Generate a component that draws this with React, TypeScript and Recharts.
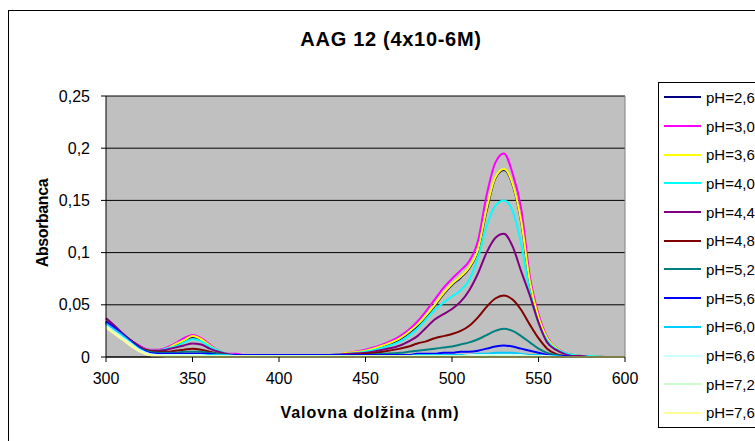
import React from 'react';
import { LineChart, Line, XAxis, YAxis, CartesianGrid, ReferenceLine } from 'recharts';

// wavelength grid (nm)
const wavelengths = [
  300, 305, 310, 315, 320, 325, 330, 335, 340, 345,
  350, 355, 360, 365, 370, 375, 380, 390, 400, 410,
  420, 430, 440, 450, 460, 470, 475, 480, 485, 490,
  495, 500, 505, 510, 515, 520, 525, 530, 535, 540,
  545, 550, 555, 560, 565, 570, 575, 580, 590, 600,
];

const ph26 = [
  0.033, 0.027, 0.021, 0.015, 0.010, 0.006, 0.006, 0.008, 0.011, 0.015,
  0.019, 0.017, 0.011, 0.006, 0.003, 0.002, 0.002, 0.002, 0.002, 0.002,
  0.002, 0.002, 0.003, 0.006, 0.010, 0.017, 0.023, 0.030, 0.039, 0.049,
  0.060, 0.069, 0.076, 0.085, 0.102, 0.140, 0.171, 0.179, 0.165, 0.129,
  0.071, 0.037, 0.018, 0.009, 0.004, 0.002, 0.001, 0.001, 0.000, 0.000,
];
const ph30 = [
  0.032, 0.026, 0.020, 0.015, 0.010, 0.007, 0.007, 0.009, 0.013, 0.018,
  0.021, 0.018, 0.012, 0.006, 0.003, 0.003, 0.002, 0.002, 0.002, 0.002,
  0.002, 0.002, 0.004, 0.007, 0.012, 0.020, 0.026, 0.034, 0.044, 0.055,
  0.066, 0.075, 0.083, 0.092, 0.111, 0.155, 0.186, 0.195, 0.176, 0.142,
  0.077, 0.041, 0.019, 0.009, 0.004, 0.002, 0.001, 0.001, 0.000, 0.000,
];
const ph36 = [
  0.030, 0.025, 0.019, 0.014, 0.009, 0.006, 0.006, 0.008, 0.012, 0.016,
  0.020, 0.017, 0.011, 0.006, 0.003, 0.002, 0.002, 0.002, 0.002, 0.002,
  0.002, 0.002, 0.004, 0.006, 0.011, 0.018, 0.024, 0.031, 0.040, 0.050,
  0.061, 0.070, 0.077, 0.086, 0.103, 0.142, 0.172, 0.180, 0.166, 0.130,
  0.072, 0.038, 0.018, 0.009, 0.004, 0.002, 0.001, 0.001, 0.000, 0.000,
];
const ph40 = [
  0.031, 0.026, 0.020, 0.014, 0.009, 0.006, 0.006, 0.008, 0.010, 0.014,
  0.017, 0.015, 0.010, 0.006, 0.003, 0.002, 0.002, 0.002, 0.002, 0.002,
  0.002, 0.002, 0.003, 0.005, 0.009, 0.015, 0.020, 0.027, 0.036, 0.045,
  0.052, 0.058, 0.064, 0.074, 0.095, 0.125, 0.145, 0.150, 0.140, 0.108,
  0.062, 0.033, 0.016, 0.008, 0.004, 0.002, 0.001, 0.001, 0.000, 0.000,
];
const ph44 = [
  0.037, 0.030, 0.022, 0.015, 0.009, 0.006, 0.006, 0.007, 0.009, 0.011,
  0.013, 0.012, 0.008, 0.005, 0.003, 0.002, 0.002, 0.002, 0.002, 0.002,
  0.002, 0.002, 0.003, 0.004, 0.007, 0.011, 0.015, 0.020, 0.028, 0.036,
  0.041, 0.046, 0.053, 0.064, 0.080, 0.100, 0.114, 0.118, 0.106, 0.082,
  0.059, 0.033, 0.014, 0.007, 0.003, 0.001, 0.001, 0.000, 0.000, 0.000,
];
const ph48 = [
  0.034, 0.028, 0.021, 0.015, 0.009, 0.006, 0.005, 0.005, 0.006, 0.007,
  0.008, 0.007, 0.005, 0.003, 0.002, 0.002, 0.002, 0.002, 0.002, 0.002,
  0.002, 0.002, 0.002, 0.003, 0.005, 0.008, 0.010, 0.013, 0.015, 0.018,
  0.020, 0.022, 0.025, 0.030, 0.038, 0.048, 0.056, 0.059, 0.055, 0.045,
  0.031, 0.018, 0.008, 0.003, 0.001, 0.000, 0.000, 0.000, 0.000, 0.000,
];
const ph52 = [
  0.033, 0.027, 0.020, 0.014, 0.008, 0.005, 0.004, 0.004, 0.004, 0.005,
  0.005, 0.005, 0.004, 0.003, 0.002, 0.002, 0.002, 0.002, 0.002, 0.002,
  0.002, 0.002, 0.002, 0.002, 0.003, 0.004, 0.005, 0.006, 0.007, 0.008,
  0.009, 0.010, 0.012, 0.014, 0.017, 0.021, 0.025, 0.027, 0.025, 0.020,
  0.014, 0.008, 0.004, 0.002, 0.001, 0.000, 0.000, 0.000, 0.000, 0.000,
];
const ph56 = [
  0.034, 0.028, 0.021, 0.014, 0.008, 0.004, 0.003, 0.003, 0.003, 0.003,
  0.003, 0.003, 0.003, 0.002, 0.002, 0.002, 0.002, 0.002, 0.002, 0.002,
  0.002, 0.002, 0.002, 0.002, 0.002, 0.002, 0.002, 0.003, 0.003, 0.003,
  0.004, 0.004, 0.005, 0.005, 0.006, 0.008, 0.010, 0.011, 0.010, 0.008,
  0.006, 0.004, 0.002, 0.001, 0.001, 0.000, 0.000, 0.000, 0.000, 0.000,
];
const ph60 = [
  0.032, 0.026, 0.020, 0.013, 0.007, 0.003, 0.002, 0.002, 0.002, 0.002,
  0.002, 0.002, 0.002, 0.002, 0.002, 0.001, 0.001, 0.001, 0.001, 0.001,
  0.001, 0.001, 0.001, 0.001, 0.001, 0.001, 0.001, 0.002, 0.002, 0.002,
  0.002, 0.002, 0.002, 0.002, 0.003, 0.003, 0.004, 0.004, 0.004, 0.003,
  0.002, 0.002, 0.001, 0.001, 0.000, 0.000, 0.000, 0.000, 0.000, 0.000,
];
const ph66 = [
  0.030, 0.024, 0.018, 0.012, 0.006, 0.003, 0.002, 0.002, 0.002, 0.002,
  0.002, 0.002, 0.001, 0.001, 0.001, 0.001, 0.001, 0.001, 0.001, 0.001,
  0.001, 0.001, 0.001, 0.001, 0.001, 0.001, 0.001, 0.001, 0.001, 0.001,
  0.001, 0.001, 0.001, 0.002, 0.002, 0.002, 0.002, 0.002, 0.002, 0.002,
  0.001, 0.001, 0.001, 0.000, 0.000, 0.000, 0.000, 0.000, 0.000, 0.000,
];
const ph72 = [
  0.029, 0.023, 0.017, 0.011, 0.005, 0.002, 0.001, 0.001, 0.001, 0.001,
  0.001, 0.001, 0.001, 0.001, 0.001, 0.001, 0.001, 0.001, 0.001, 0.001,
  0.001, 0.001, 0.001, 0.001, 0.001, 0.001, 0.001, 0.001, 0.001, 0.001,
  0.001, 0.001, 0.001, 0.001, 0.001, 0.001, 0.001, 0.001, 0.001, 0.001,
  0.001, 0.001, 0.000, 0.000, 0.000, 0.000, 0.000, 0.000, 0.000, 0.000,
];
const ph76 = [
  0.028, 0.022, 0.016, 0.010, 0.005, 0.002, 0.001, 0.000, 0.000, 0.000,
  0.000, 0.000, 0.000, 0.000, 0.000, 0.000, 0.000, 0.000, 0.000, 0.000,
  0.000, 0.000, 0.000, 0.000, 0.000, 0.000, 0.000, 0.000, 0.000, 0.000,
  0.000, 0.000, 0.000, 0.000, 0.000, 0.000, 0.000, 0.000, 0.000, 0.000,
  0.000, 0.000, 0.000, 0.000, 0.000, 0.000, 0.000, 0.000, 0.000, 0.000,
];

const seriesNames = [
  'pH=2,6', 'pH=3,0', 'pH=3,6', 'pH=4,0', 'pH=4,4', 'pH=4,8',
  'pH=5,2', 'pH=5,6', 'pH=6,0', 'pH=6,6', 'pH=7,2', 'pH=7,6',
];
const seriesColors = [
  '#000080', '#FF00FF', '#FFFF00', '#00FFFF', '#800080', '#800000',
  '#008080', '#0000FF', '#00CCFF', '#CCFFFF', '#CCFFCC', '#FFFF99',
];
const seriesValues = [ph26, ph30, ph36, ph40, ph44, ph48, ph52, ph56, ph60, ph66, ph72, ph76];

const xTicks = [300, 350, 400, 450, 500, 550, 600];
const yTicks = [0, 0.05, 0.1, 0.15, 0.2, 0.25];

const chartData = wavelengths.map((nm, i) => {
  const row: Record<string, number> = { nm };
  seriesValues.forEach((vals, s) => {
    row[`s${s}`] = vals[i];
  });
  return row;
});

const FONT = '"Liberation Sans", Arial, sans-serif';
const fmt = (v: number) => String(v).replace('.', ',');

const XTitle = ({ viewBox }: any) => (
  <text
    x={viewBox.x + viewBox.width / 2 + 4.5}
    y={viewBox.y + 61}
    textAnchor="middle"
    fontFamily={FONT}
    fontSize={16}
    fontWeight="bold"
    letterSpacing={1}
    fill="#000"
  >
    Valovna dolžina (nm)
  </text>
);

const YTitle = ({ viewBox }: any) => {
  const x = viewBox.x + 48;
  const y = viewBox.y + viewBox.height / 2 - 3.5;
  return (
    <text
      x={x}
      y={y}
      transform={`rotate(-90, ${x}, ${y})`}
      textAnchor="middle"
      fontFamily={FONT}
      fontSize={16}
      fontWeight="bold"
      letterSpacing={-0.4}
      fill="#000"
    >
      Absorbanca
    </text>
  );
};

export default function App() {
  return (
    <div style={{ position: 'absolute', left: 0, top: 0, width: 755, height: 441, overflow: 'hidden', background: '#fff', fontFamily: FONT }}>
      <div style={{ position: 'absolute', left: 8, top: 10, width: 800, height: 500, border: '1px solid #000' }} />

      <div
        style={{
          position: 'absolute', left: 0, top: 29, width: 782, textAlign: 'center',
          fontSize: 20, lineHeight: '20px', fontWeight: 'bold', letterSpacing: 0.7,
        }}
      >
        AAG 12 (4x10-6M)
      </div>

      <div style={{ position: 'absolute', left: 0, top: 0 }}>
        <LineChart
          width={755}
          height={441}
          data={chartData}
          margin={{ top: 96, right: 130, bottom: 44, left: 0 }}
        >
          <CartesianGrid vertical={false} stroke="#000" fill="#C0C0C0" fillOpacity={1} />
          <XAxis
            dataKey="nm"
            type="number"
            domain={[300, 600]}
            ticks={xTicks}
            height={40}
            stroke="#000"
            tickSize={5}
            tickMargin={11}
            tick={{ fill: '#000', fontSize: 16, fontFamily: FONT }}
            label={<XTitle />}
          />
          <YAxis
            type="number"
            domain={[0, 0.25]}
            ticks={yTicks}
            width={106}
            stroke="#000"
            tickSize={5}
            tickMargin={11}
            tickFormatter={fmt}
            tick={{ fill: '#000', fontSize: 16, fontFamily: FONT }}
            label={<YTitle />}
          />
          <ReferenceLine x={600} stroke="#808080" />
          {seriesNames.map((name, s) => (
            <Line
              key={name}
              name={name}
              type="monotone"
              dataKey={`s${s}`}
              stroke={seriesColors[s]}
              strokeWidth={2}
              dot={false}
              isAnimationActive={false}
            />
          ))}
        </LineChart>
      </div>

      <div
        style={{
          position: 'absolute', left: 658, top: 82, width: 140, height: 344,
          border: '1px solid #000', background: '#fff',
        }}
      >
        {seriesNames.map((name, s) => (
          <div key={name} style={{ height: 28.7, display: 'flex', alignItems: 'center' }}>
            <span style={{ display: 'inline-block', width: 37, height: 2, marginLeft: 5, background: seriesColors[s] }} />
            <span style={{ marginLeft: 5, fontSize: 15, color: '#000', whiteSpace: 'nowrap' }}>{name}</span>
          </div>
        ))}
      </div>
    </div>
  );
}
